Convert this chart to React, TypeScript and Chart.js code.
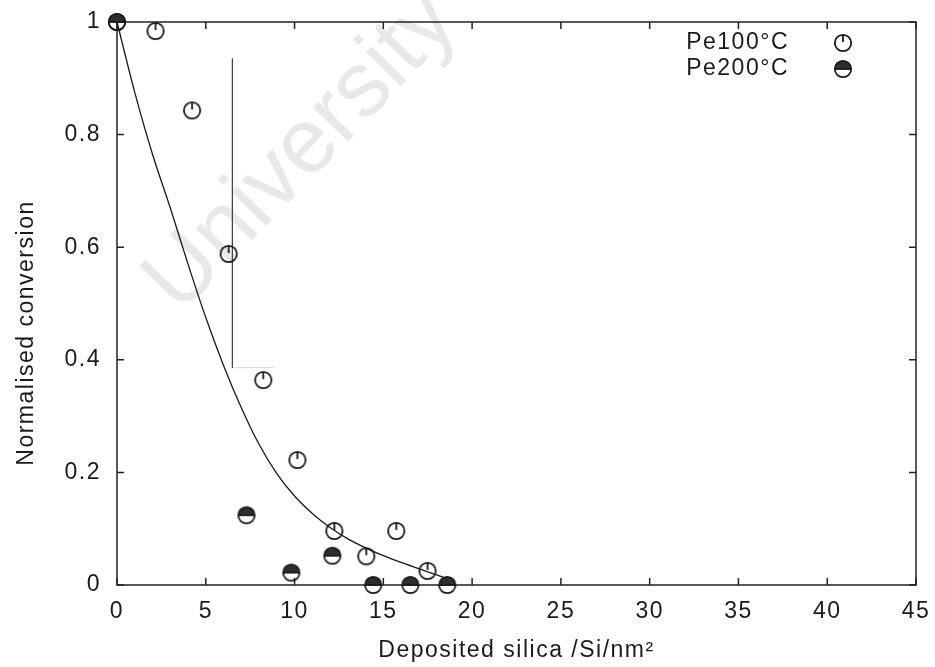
import React, { useEffect, useRef } from 'react';
import { Chart, registerables } from 'chart.js';

Chart.register(...registerables);

// ---- data ----
const seriesNames = ['Pe100°C', 'Pe200°C'];

const pe100X = [0, 2.17, 4.23, 6.29, 8.24, 10.16, 12.24, 14.04, 15.73, 17.49];
const pe100Y = [1, 0.984, 0.843, 0.588, 0.364, 0.222, 0.096, 0.051, 0.096, 0.025];

const pe200X = [0, 7.29, 9.82, 12.13, 14.43, 16.52, 18.6];
const pe200Y = [1, 0.124, 0.022, 0.052, 0, 0, 0];

const fitX = [0, 1, 2, 3, 4, 5, 6, 7, 8, 9, 10, 11, 12, 13, 14, 15, 16, 17, 18, 19];
const fitY = [1, 0.875, 0.765, 0.67, 0.57, 0.475, 0.39, 0.315, 0.25, 0.198, 0.158, 0.127, 0.102, 0.082, 0.066, 0.052, 0.04, 0.029, 0.018, 0.007];

// scan artefact lines (vertical dark stroke and faint horizontal stroke)
const artifactVX = [6.5, 6.5];
const artifactVY = [0.935, 0.386];
const artifactHX = [6.5, 8.86];
const artifactHY = [0.386, 0.386];

const xTicks = [0, 5, 10, 15, 20, 25, 30, 35, 40, 45];
const xTickLabels = ['0', '5', '10', '15', '20', '25', '30', '35', '40', '45'];
const yTicks = [0, 0.2, 0.4, 0.6, 0.8, 1];
const yTickLabels = ['0', '0.2', '0.4', '0.6', '0.8', '1'];

const xTitle = 'Deposited silica /Si/nm²';
const yTitle = 'Normalised conversion';
const watermark = 'University';

const FONT = '"Liberation Sans", Arial, Helvetica, sans-serif';
const INK = '#1a1a1a';

const pts = (xs: number[], ys: number[]) => xs.map((x, i) => ({ x, y: ys[i] }));

function makeMarker(kind: 'open' | 'half'): HTMLCanvasElement {
  const c = document.createElement('canvas');
  c.width = 22;
  c.height = 22;
  const g = c.getContext('2d')!;
  const cx = 11, cy = 11, r = 8.2;
  g.strokeStyle = INK;
  g.lineWidth = 1.8;
  if (kind === 'half') {
    g.fillStyle = '#2e2e2e';
    g.beginPath();
    g.arc(cx, cy, r, Math.PI, 0);
    g.closePath();
    g.fill();
    g.beginPath();
    g.moveTo(cx - r, cy);
    g.lineTo(cx + r, cy);
    g.stroke();
  } else {
    g.beginPath();
    g.moveTo(cx, cy - r);
    g.lineTo(cx, cy - 1);
    g.stroke();
  }
  g.beginPath();
  g.arc(cx, cy, r, 0, Math.PI * 2);
  g.stroke();
  return c;
}

const zeroPad = (scale: any) => {
  scale.paddingTop = 0;
  scale.paddingBottom = 0;
  scale.paddingLeft = 0;
  scale.paddingRight = 0;
};

export default function App() {
  const ref = useRef<HTMLCanvasElement | null>(null);

  useEffect(() => {
    const canvas = ref.current;
    if (!canvas) return;
    const openMarker = makeMarker('open');
    const halfMarker = makeMarker('half');

    const decor = {
      id: 'decor',
      beforeUpdate(chart: any) {
        chart.ctx.letterSpacing = '1.5px';
      },
      beforeDraw(chart: any) {
        const ctx = chart.ctx;
        ctx.save();
        ctx.fillStyle = '#ffffff';
        ctx.fillRect(0, 0, chart.width, chart.height);
        ctx.restore();
        ctx.letterSpacing = '1.5px';
      },
      beforeDatasetsDraw(chart: any) {
        const { ctx, chartArea: a, scales } = chart;
        const xs = scales.x, ys = scales.y;
        // watermark
        ctx.save();
        ctx.letterSpacing = '0px';
        ctx.translate(302, 152);
        ctx.rotate((-46 * Math.PI) / 180);
        ctx.font = `92px ${FONT}`;
        ctx.fillStyle = '#e8e8e8';
        ctx.textAlign = 'center';
        ctx.textBaseline = 'middle';
        ctx.fillText(watermark, 0, 0);
        ctx.restore();
        // frame
        ctx.save();
        ctx.strokeStyle = '#222';
        ctx.lineWidth = 1.5;
        ctx.strokeRect(a.left, a.top, a.right - a.left, a.bottom - a.top);
        const tl = 7;
        ctx.beginPath();
        xTicks.forEach((v) => {
          const px = xs.getPixelForValue(v);
          ctx.moveTo(px, a.bottom);
          ctx.lineTo(px, a.bottom - tl);
          ctx.moveTo(px, a.top);
          ctx.lineTo(px, a.top + tl);
        });
        yTicks.forEach((v) => {
          const py = ys.getPixelForValue(v);
          ctx.moveTo(a.left, py);
          ctx.lineTo(a.left + tl, py);
          ctx.moveTo(a.right, py);
          ctx.lineTo(a.right - tl, py);
        });
        ctx.stroke();
        ctx.restore();
      },
      afterDraw(chart: any) {
        const { ctx, chartArea: a } = chart;
        ctx.save();
        ctx.letterSpacing = '1.5px';
        ctx.font = `23px ${FONT}`;
        ctx.fillStyle = INK;
        // y-axis title
        ctx.save();
        ctx.translate(27, 333);
        ctx.rotate(-Math.PI / 2);
        ctx.textAlign = 'center';
        ctx.textBaseline = 'middle';
        ctx.fillText(yTitle, 0, 0);
        ctx.restore();
        // legend
        ctx.textAlign = 'right';
        ctx.textBaseline = 'middle';
        const lx = a.right - 127;
        const mx = a.right - 73;
        const rows = [a.top + 21, a.top + 47];
        ctx.fillText(seriesNames[0], lx, rows[0]);
        ctx.fillText(seriesNames[1], lx, rows[1]);
        ctx.drawImage(openMarker, mx - 11, rows[0] - 11);
        ctx.drawImage(halfMarker, mx - 11, rows[1] - 11);
        ctx.restore();
      },
    };

    const chart = new Chart(canvas, {
      type: 'scatter',
      data: {
        datasets: [
          {
            label: seriesNames[1],
            data: pts(pe200X, pe200Y),
            pointStyle: halfMarker as any,
            pointRadius: 9,
            pointHoverRadius: 9,
            showLine: false,
            clip: false as any,
            order: 0,
          },
          {
            label: seriesNames[0],
            data: pts(pe100X, pe100Y),
            pointStyle: openMarker as any,
            pointRadius: 9,
            pointHoverRadius: 9,
            showLine: false,
            clip: false as any,
            order: 1,
          },
          {
            label: 'fit',
            data: pts(fitX, fitY),
            showLine: true,
            pointRadius: 0,
            borderColor: INK,
            borderWidth: 1.3,
            cubicInterpolationMode: 'monotone',
            clip: false as any,
            order: 2,
          },
          {
            label: 'artefact-v',
            data: pts(artifactVX, artifactVY),
            showLine: true,
            pointRadius: 0,
            borderColor: '#444',
            borderWidth: 1,
            order: 3,
          },
          {
            label: 'artefact-h',
            data: pts(artifactHX, artifactHY),
            showLine: true,
            pointRadius: 0,
            borderColor: '#dadada',
            borderWidth: 1,
            order: 4,
          },
        ],
      },
      options: {
        responsive: false,
        animation: false,
        devicePixelRatio: 1,
        layout: { padding: { left: 0, right: 19, top: 22, bottom: 0 } },
        plugins: {
          legend: { display: false },
          tooltip: { enabled: false },
          title: { display: false },
        },
        scales: {
          x: {
            type: 'linear',
            min: 0,
            max: 45,
            afterFit(scale: any) {
              scale.height = 82;
              zeroPad(scale);
            },
            afterBuildTicks(scale: any) {
              scale.ticks = xTicks.map((v) => ({ value: v }));
            },
            grid: { display: false, drawTicks: false },
            border: { display: false },
            ticks: {
              autoSkip: false,
              maxRotation: 0,
              padding: 13,
              color: INK,
              font: { family: FONT, size: 23 },
              callback: (v: any) => xTickLabels[xTicks.indexOf(Number(v))] ?? '',
            },
            title: {
              display: true,
              text: xTitle,
              color: INK,
              font: { family: FONT, size: 23 },
              padding: { top: 0, bottom: 3 },
            },
          },
          y: {
            type: 'linear',
            min: 0,
            max: 1,
            afterFit(scale: any) {
              scale.width = 117;
              zeroPad(scale);
            },
            afterBuildTicks(scale: any) {
              scale.ticks = yTicks.map((v) => ({ value: v }));
            },
            grid: { display: false, drawTicks: false },
            border: { display: false },
            ticks: {
              autoSkip: false,
              padding: 16,
              color: INK,
              font: { family: FONT, size: 23 },
              callback: (v: any) => {
                const i = yTicks.findIndex((t) => Math.abs(t - Number(v)) < 1e-9);
                return i >= 0 ? yTickLabels[i] : '';
              },
            },
            title: { display: false },
          },
        },
      },
      plugins: [decor as any],
    });

    return () => chart.destroy();
  }, []);

  return (
    <div style={{ position: 'fixed', left: 0, top: 0, width: 935, height: 667, background: '#fff' }}>
      <canvas ref={ref} width={935} height={667} style={{ display: 'block' }} />
    </div>
  );
}
